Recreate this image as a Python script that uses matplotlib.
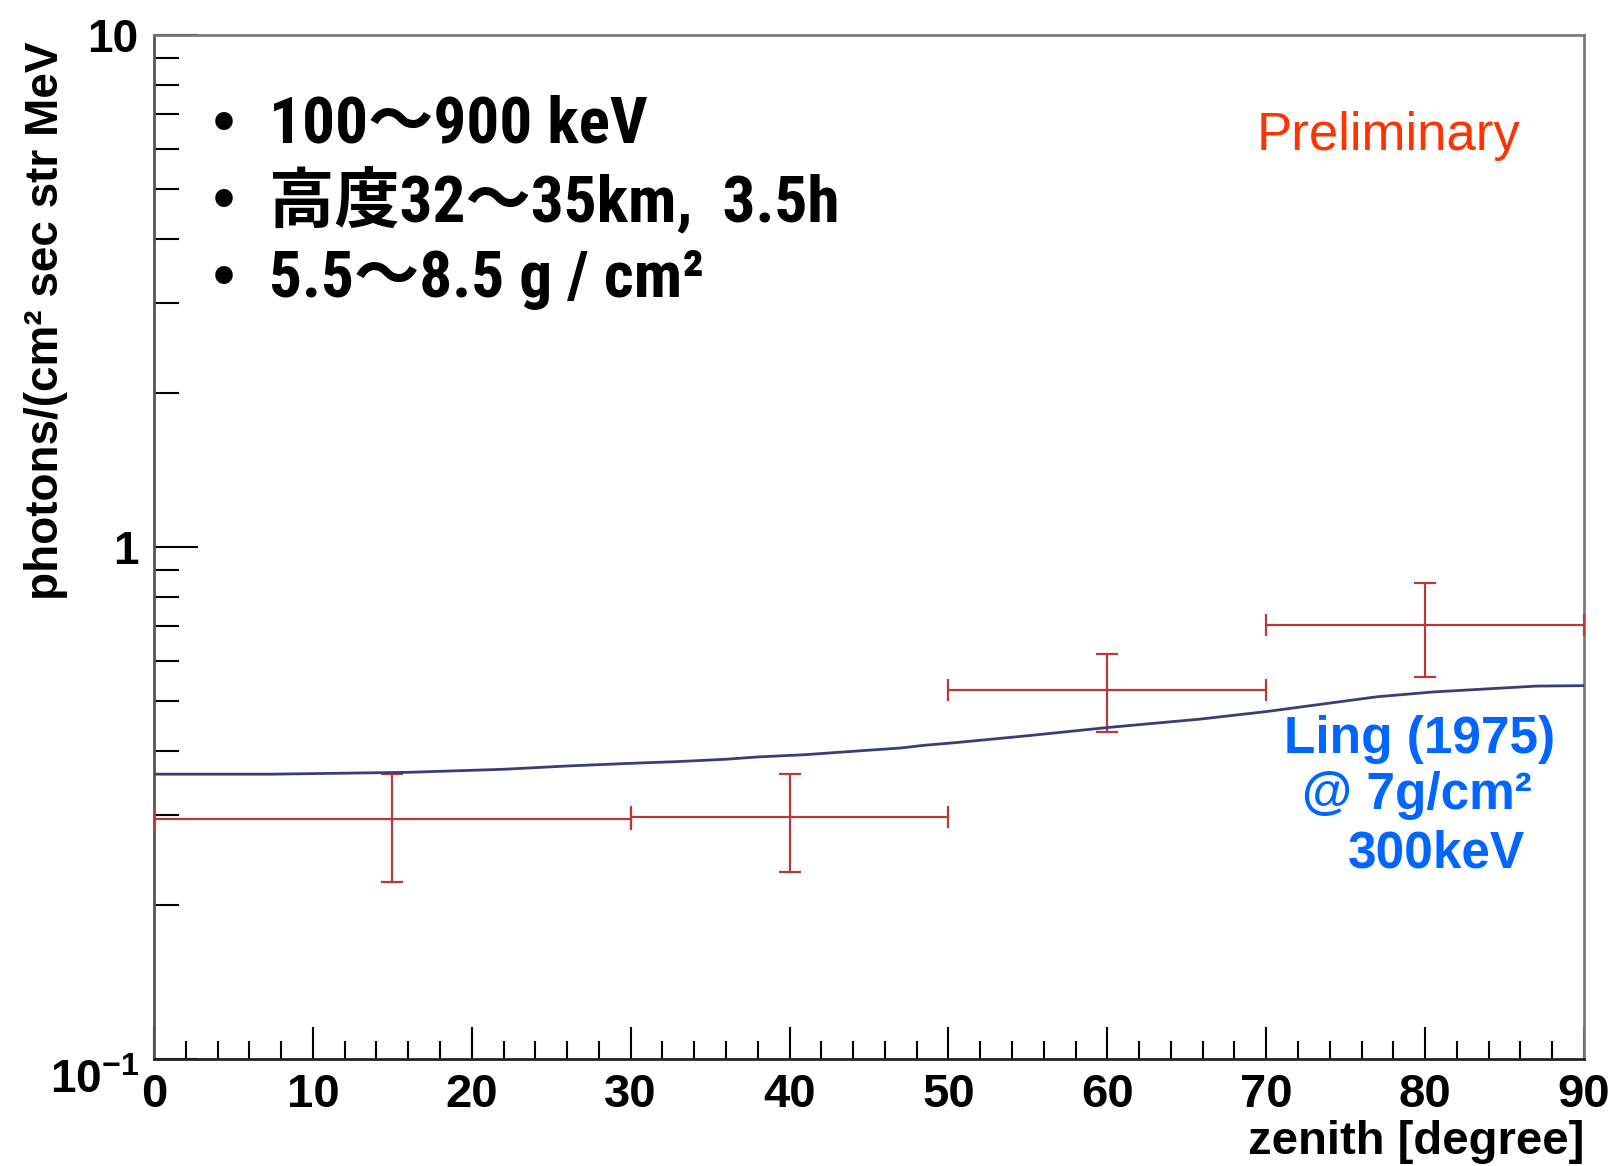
import matplotlib
matplotlib.use("Agg")
import matplotlib.pyplot as plt
from matplotlib import font_manager
from matplotlib.ticker import FixedLocator, LogLocator, MultipleLocator, NullFormatter
import numpy as np

# measured points (histogram bins with errors)
bin_lo = np.array([0, 30, 50, 70])
bin_hi = np.array([30, 50, 70, 90])
flux = np.array([0.294, 0.2965, 0.5256, 0.704])
flux_up = np.array([0.360, 0.360, 0.618, 0.852])
flux_dn = np.array([0.222, 0.2323, 0.435, 0.558])

# Ling (1975) model curve @ 7 g/cm2, 300 keV
ling_x = [0, 7.4, 16, 22, 26, 30, 33, 36, 38, 41, 43, 45, 47, 48.5, 50.5,
          55, 60, 65.8, 70, 77, 80.5, 87, 90]
ling_y = [0.360, 0.360, 0.363, 0.368, 0.3735, 0.378, 0.381, 0.385, 0.389,
          0.393, 0.397, 0.401, 0.405, 0.410, 0.415, 0.428, 0.444, 0.461,
          0.477, 0.510, 0.521, 0.535, 0.536]

ytick_vals = [0.1, 1, 10]
ytick_labels = [r'$10^{-1}$', '1', '10']
xtick_vals = list(range(0, 91, 10))

# narrow bold face for the note block, if one is installed
names = {f.name for f in font_manager.fontManager.ttflist}
if 'Liberation Sans Narrow' in names:
    narrow, note_size = 'Liberation Sans Narrow', 50
elif 'Roboto Condensed' in names:
    narrow, note_size = 'Roboto Condensed', 47
else:
    narrow, note_size = 'Liberation Sans', 43

plt.rcParams['font.family'] = ['Liberation Sans', 'DejaVu Sans']
plt.rcParams['mathtext.fontset'] = 'custom'
plt.rcParams['mathtext.rm'] = 'Liberation Sans:bold'
plt.rcParams['mathtext.it'] = 'Liberation Sans:bold'
plt.rcParams['mathtext.bf'] = 'Liberation Sans:bold'
plt.rcParams['mathtext.default'] = 'rm'

W, H = 1610, 1166
fig = plt.figure(figsize=(W / 100, H / 100), dpi=100)
ax = fig.add_axes([154 / W, 1 - 1059 / H, (1584 - 154) / W, (1059 - 35) / H])

centers = (bin_lo + bin_hi) / 2
ax.errorbar(centers, flux, xerr=(bin_hi - bin_lo) / 2,
            yerr=[flux - flux_dn, flux_up - flux],
            fmt='none', ecolor='#b53a3a', elinewidth=1.6, capsize=8, capthick=1.6,
            zorder=3)
ax.plot(ling_x, ling_y, color='#3c3c78', lw=2.0, zorder=4)

ax.set_yscale('log')
ax.set_xlim(0, 90)
ax.set_ylim(0.1, 10)

ax.yaxis.set_major_locator(FixedLocator(ytick_vals))
ax.set_yticklabels(ytick_labels)
ax.yaxis.set_minor_locator(LogLocator(base=10, subs=np.arange(2, 10)))
ax.yaxis.set_minor_formatter(NullFormatter())
ax.set_xticks(xtick_vals)
ax.xaxis.set_minor_locator(MultipleLocator(2))

ax.tick_params(axis='x', which='major', direction='in', length=23, width=1.5,
               pad=10, labelsize=34)
ax.tick_params(axis='x', which='minor', direction='in', length=13, width=1.5)
ax.tick_params(axis='y', which='major', direction='in', length=32, width=1.5,
               pad=11, labelsize=33)
ax.tick_params(axis='y', which='minor', direction='in', length=18, width=1.5)
for lab in ax.get_xticklabels() + ax.get_yticklabels():
    lab.set_fontweight('bold')
ax.yaxis.get_major_ticks()[0].label1.set_verticalalignment('top')

ax.spines['left'].set_color('#555555')
ax.spines['bottom'].set_color('#222222')
ax.spines['top'].set_color('#7a7a7a')
ax.spines['right'].set_color('#7a7a7a')
for s in ax.spines.values():
    s.set_linewidth(2)

fig.text(46 / W, 1 - 41 / H, 'photons/(cm² sec str MeV', rotation=90,
         ha='center', va='top', fontsize=33, fontweight='bold')
fig.text(1584 / W, 1 - 1142 / H, 'zenith [degree]', ha='right', va='center',
         fontsize=34, fontweight='bold')

fig.text(1257 / W, 1 - 150 / H, 'Preliminary', color='#ff3300', fontsize=38,
         va='baseline', ha='left')

notes = ['100〜900 keV', '高度32〜35km,  3.5h', '5.5〜8.5 g / cm²']
note_y = [125, 202, 279]
for txt, yy in zip(notes, note_y):
    fig.text(224 / W, 1 - yy / H, '•', fontsize=36, fontweight='bold',
             ha='center', va='center', family=['DejaVu Sans'])
    fig.text(269 / W, 1 - yy / H, txt, fontsize=note_size, fontweight='bold',
             ha='left', va='center', family=[narrow, 'Noto Sans CJK JP'])

ling_lines = ['Ling (1975)', '@ 7g/cm²', '300keV']
ling_pos = [(1284, 739), (1302, 796), (1348, 854)]
for txt, (xx, yy) in zip(ling_lines, ling_pos):
    fig.text(xx / W, 1 - yy / H, txt, color='#0066ff', fontsize=37,
             fontweight='bold', ha='left', va='center')

fig.savefig('out.png', dpi=100)
